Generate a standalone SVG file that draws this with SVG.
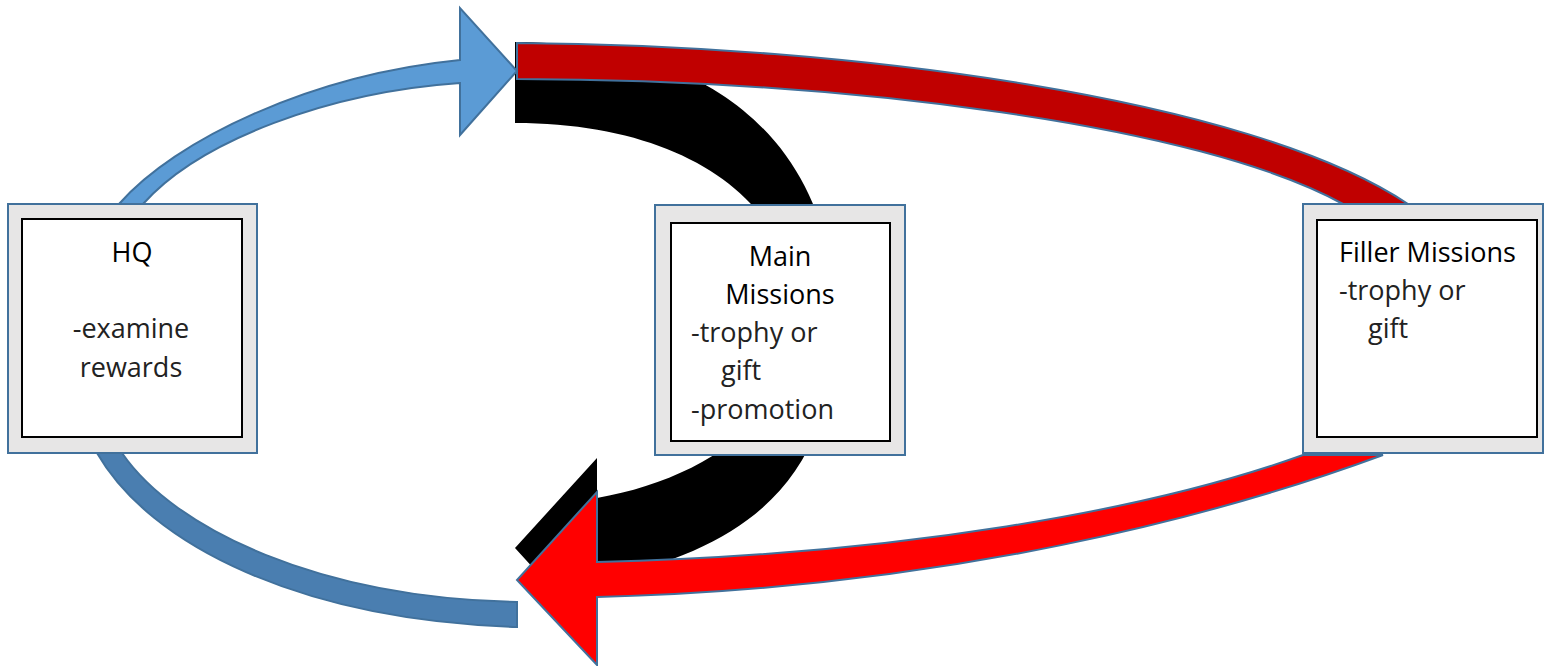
<svg xmlns="http://www.w3.org/2000/svg" width="1546" height="666" viewBox="0 0 1546 666">
  <style>
    .edge { stroke: #41719C; stroke-width: 2; stroke-linejoin: miter; }
    .frame { fill: #E7E6E6; stroke: #41719C; stroke-width: 2; }
    .panel { fill: #FFFFFF; stroke: #000000; stroke-width: 2; }
    .title { font-family: "Open Sans", "Noto Sans", sans-serif; font-size: 27px; fill: #000000; }
    .body { font-family: "Open Sans", "Noto Sans", sans-serif; font-size: 27px; font-weight: 400; fill: #222222; }
  </style>

  <!-- connectors: curved block arrows -->
  <g id="connectors">
    <!-- lower blue return arc from HQ -->
    <path id="blue-lower" class="edge" fill="#4A7EB0"
          d="M97,453 C150,545 300,620 517,627 L517,602 C320,598 175,530 122,453 Z"/>
    <!-- black loop through Main Missions -->
    <path id="black-loop" fill="#000000"
          d="M515,42 C740,42 835,170 835,320 C835,460 770,545 597,580 L597,638 L515,548 L597,458 L597,498 C700,480 797,420 797,320 C797,205 690,123 515,123 Z"/>
    <!-- upper red band from Filler Missions -->
    <path id="red-upper" class="edge" fill="#C00000"
          d="M517,43 C850,45 1250,98 1408,204 L1343,204 C1200,125 850,80 517,79 Z"/>
    <!-- lower red arrow into the bottom -->
    <path id="red-lower" class="edge" fill="#FF0000"
          d="M1383,455 C1220,515 950,588 597,597 L597,665 L517,580 L597,492 L597,562 C900,555 1150,510 1303,455 Z"/>
    <!-- upper blue arrow leaving HQ -->
    <path id="blue-upper" class="edge" fill="#5B9BD5"
          d="M119,204 C175,140 310,75 460,60 L460,8 L517,71 L460,135 L460,83 C330,92 200,140 143,204 Z"/>
  </g>

  <!-- HQ node -->
  <g id="node-hq">
    <rect class="frame" x="8" y="204" width="249" height="249"/>
    <rect class="panel" x="22" y="219" width="220" height="218"/>
    <text class="title" x="132" y="262" text-anchor="middle">HQ</text>
    <text class="body" x="131" y="338" text-anchor="middle">-examine</text>
    <text class="body" x="131" y="377" text-anchor="middle">rewards</text>
  </g>

  <!-- Main Missions node -->
  <g id="node-main">
    <rect class="frame" x="655" y="205" width="250" height="250"/>
    <rect class="panel" x="671" y="223" width="219" height="218"/>
    <text class="title" x="780" y="266" text-anchor="middle">Main</text>
    <text class="title" x="780" y="304" text-anchor="middle">Missions</text>
    <text class="body" x="691" y="342">-trophy or</text>
    <text class="body" x="721" y="380">gift</text>
    <text class="body" x="691" y="419">-promotion</text>
  </g>

  <!-- Filler Missions node -->
  <g id="node-filler">
    <rect class="frame" x="1303" y="204" width="240" height="249"/>
    <rect class="panel" x="1317" y="220" width="220" height="217"/>
    <text class="title" x="1339" y="262">Filler Missions</text>
    <text class="body" x="1339" y="300">-trophy or</text>
    <text class="body" x="1368" y="338">gift</text>
  </g>
</svg>
